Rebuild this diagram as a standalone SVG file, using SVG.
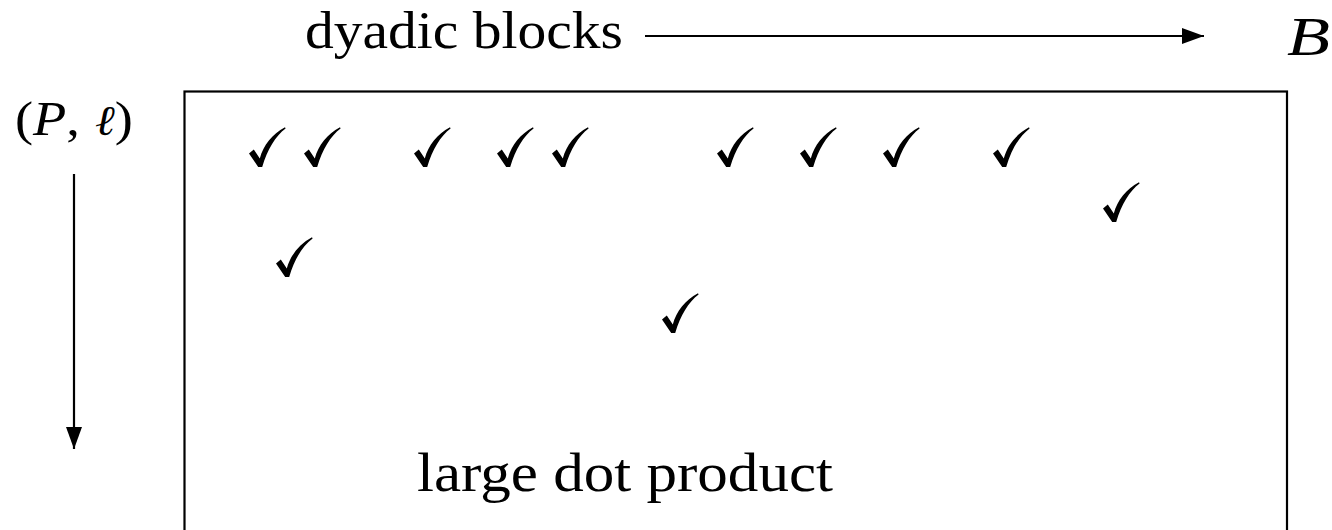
<svg xmlns="http://www.w3.org/2000/svg" xmlns:xlink="http://www.w3.org/1999/xlink" width="1332" height="530" viewBox="0 0 1332 530">
<style>
.t{font-family:"Liberation Serif","DejaVu Serif",serif;fill:#000}
.ln{stroke:#000;stroke-width:2.2;fill:none}
.ck{fill:#000}
</style>
<defs>
<marker id="ah" viewBox="0 0 22 16" refX="22" refY="8" markerWidth="22" markerHeight="16" markerUnits="userSpaceOnUse" orient="auto">
<path d="M0,0 L22,8 L0,16 Z" fill="#000"/>
</marker>
<path id="chk" class="ck" d="M0,26.5 L4.8,22.5 L10.8,31.5 C14.5,18 23,7.5 36,0.3 L36.6,1.4 C26.5,9 18.5,22 13.2,40 L9.2,40 Z"/>
</defs>
<rect width="1332" height="530" fill="#fff"/>
<g id="matrix">
<rect class="ln" x="184.5" y="91.5" width="1102.5" height="460"/>
</g>
<g id="label-dyadic">
<text class="t" x="305" y="48" font-size="53" textLength="318" lengthAdjust="spacingAndGlyphs">dyadic blocks</text>
</g>
<g id="label-B">
<text class="t" x="1287" y="55" font-size="54" font-style="italic" textLength="43" lengthAdjust="spacingAndGlyphs">B</text>
</g>
<g id="label-Pl">
<text class="t" x="15" y="135" font-size="48" textLength="118" lengthAdjust="spacingAndGlyphs">(<tspan font-style="italic">P</tspan>,<tspan font-family="'DejaVu Serif',serif" font-style="italic" font-size="42"> ℓ</tspan>)</text>
</g>
<g id="label-ldp">
<text class="t" x="417" y="491" font-size="54" textLength="416" lengthAdjust="spacingAndGlyphs">large dot product</text>
</g>
<g id="checks">
<use xlink:href="#chk" x="249" y="127"/>
<use xlink:href="#chk" x="304" y="127"/>
<use xlink:href="#chk" x="414" y="127"/>
<use xlink:href="#chk" x="497" y="127"/>
<use xlink:href="#chk" x="552" y="127"/>
<use xlink:href="#chk" x="717" y="127"/>
<use xlink:href="#chk" x="800" y="127"/>
<use xlink:href="#chk" x="883" y="127"/>
<use xlink:href="#chk" x="993" y="127"/>
<use xlink:href="#chk" x="1103" y="182"/>
<use xlink:href="#chk" x="276" y="237"/>
<use xlink:href="#chk" x="662" y="293"/>
</g>
<g id="connectors">
<line class="ln" x1="645" y1="36" x2="1204" y2="36" marker-end="url(#ah)"/>
<line class="ln" x1="74" y1="174" x2="74" y2="449" marker-end="url(#ah)"/>
</g>
</svg>
